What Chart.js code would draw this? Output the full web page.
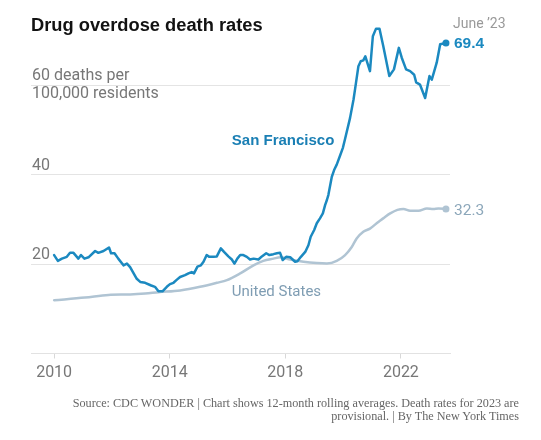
<!DOCTYPE html>
<html>
<head>
<meta charset="utf-8">
<script src="https://cdn.jsdelivr.net/npm/chart.js@4.4.1/dist/chart.umd.min.js"></script>
<style>
  html, body { margin: 0; padding: 0; background: #fff; }
  #wrap { position: relative; width: 541px; height: 440px; overflow: hidden; }
  #c { position: absolute; left: 0; top: 0; }
  #title { position: absolute; left: 31px; top: 16px; font: bold 18.3px "Liberation Sans", Arial, sans-serif; line-height: 18px; color: #121212; white-space: nowrap; }
  #source { position: absolute; right: 22px; top: 397px; font: 12.2px "Liberation Serif", "Times New Roman", serif; line-height: 12.5px; color: #666; text-align: right; white-space: nowrap; }
</style>
</head>
<body>
<div id="wrap">
  <canvas id="c" width="541" height="440"></canvas>
  <div id="title">Drug overdose death rates</div>
  <div id="source">Source: CDC WONDER | Chart shows 12-month rolling averages. Death rates for 2023 are<br>provisional. | By The New York Times</div>
</div>
<script>
// ---- data (decimal year, deaths per 100,000) ----
const sfYear = [2010.00, 2010.13, 2010.27, 2010.44, 2010.55, 2010.67, 2010.84, 2010.93, 2011.05, 2011.19,
  2011.42, 2011.53, 2011.71, 2011.90, 2011.97, 2012.09, 2012.22, 2012.40, 2012.52, 2012.63,
  2012.86, 2012.98, 2013.15, 2013.36, 2013.49, 2013.61, 2013.75, 2013.90, 2014.01, 2014.13,
  2014.25, 2014.36, 2014.53, 2014.65, 2014.76, 2014.84, 2014.96, 2015.08, 2015.17, 2015.28,
  2015.37, 2015.51, 2015.63, 2015.77, 2015.88, 2016.03, 2016.15, 2016.24, 2016.34, 2016.44,
  2016.55, 2016.67, 2016.78, 2016.90, 2017.07, 2017.19, 2017.34, 2017.45, 2017.59, 2017.71,
  2017.82, 2017.91, 2018.03, 2018.17, 2018.34, 2018.42, 2018.54, 2018.69, 2018.80, 2018.88,
  2019.00, 2019.09, 2019.20, 2019.30, 2019.38, 2019.44, 2019.49, 2019.61, 2019.69, 2019.78,
  2019.90, 2019.99, 2020.07, 2020.24, 2020.36, 2020.42, 2020.53, 2020.61, 2020.70, 2020.77,
  2020.93, 2021.03, 2021.14, 2021.26, 2021.39, 2021.60, 2021.76, 2021.93, 2022.03, 2022.18,
  2022.32, 2022.46, 2022.53, 2022.66, 2022.84, 2022.99, 2023.07, 2023.24, 2023.36, 2023.56];
const sfRate = [22.0, 20.7, 21.2, 21.6, 22.5, 22.5, 21.2, 22.0, 21.2, 21.5,
  22.9, 22.5, 22.9, 23.7, 22.4, 22.4, 21.2, 19.7, 20.1, 19.3,
  16.7, 16.0, 15.8, 15.2, 14.9, 13.9, 13.9, 14.9, 15.5, 15.8,
  16.5, 17.1, 17.5, 17.9, 18.2, 17.9, 19.4, 19.7, 20.5, 22.0,
  21.6, 21.6, 21.7, 23.5, 22.7, 21.7, 21.0, 20.1, 21.2, 22.0,
  22.0, 21.6, 21.0, 21.2, 21.0, 21.7, 22.4, 22.0, 22.2, 22.4,
  22.5, 20.9, 21.6, 21.5, 20.5, 20.6, 21.6, 22.7, 24.2, 26.1,
  27.6, 29.1, 30.2, 31.3, 33.2, 34.3, 35.4, 39.5, 41.0, 42.2,
  44.3, 45.9, 48.0, 52.6, 56.7, 59.3, 64.2, 65.3, 65.5, 66.4,
  63.1, 70.9, 72.6, 72.6, 68.7, 62.0, 63.5, 68.3, 66.1, 63.5,
  63.1, 62.3, 60.6, 60.1, 57.1, 62.0, 61.2, 65.0, 69.1, 69.4];

const usYear = [2010.00, 2011.07, 2011.88, 2012.63, 2013.15, 2013.61, 2014.36, 2015.05, 2015.63, 2015.98,
  2016.44, 2016.90, 2017.24, 2017.59, 2017.82, 2018.17, 2018.63, 2019.09, 2019.44, 2019.78,
  2020.07, 2020.30, 2020.47, 2020.70, 2020.93, 2021.22, 2021.39, 2021.63, 2021.88, 2022.09,
  2022.32, 2022.61, 2022.90, 2023.12, 2023.30, 2023.56];
const usRate = [11.9, 12.5, 13.1, 13.2, 13.4, 13.7, 14.1, 14.9, 15.8, 16.4,
  17.9, 19.7, 20.7, 21.2, 21.5, 21.0, 20.5, 20.2, 20.1, 20.7,
  22.0, 23.8, 25.7, 27.2, 27.9, 29.4, 30.2, 31.3, 32.1, 32.3,
  31.9, 31.9, 32.4, 32.3, 32.4, 32.3];

const seriesNames = ['San Francisco', 'United States'];
const xTickYears = [2010, 2014, 2018, 2022];
const yTickValues = [0, 20, 40, 60];
const yTickLabels = [[''], ['20', ''], ['40', ''], ['60 deaths per', '100,000 residents']];
const lastLabel = 'June ’23';

// ---- styling ----
const SF_COLOR = '#1b89c0';
const US_COLOR = '#b0c4d3';
const SANS = 'Roboto, "Liberation Sans", Arial, sans-serif';
const SANS_BOLD = '"Liberation Sans", Arial, sans-serif';

const toPoints = (xs, ys) => xs.map((x, i) => ({ x: x, y: ys[i] }));
const lastOnly = (n, r) => (ctx) => ctx.dataIndex === n - 1 ? r : 0;

const labelPlugin = {
  id: 'inlineLabels',
  afterDatasetsDraw(chart) {
    const { ctx } = chart;
    const xs = chart.scales.x, ys = chart.scales.y;
    const sfPt = chart.getDatasetMeta(0).data[sfYear.length - 1];
    const usPt = chart.getDatasetMeta(1).data[usYear.length - 1];
    ctx.save();
    ctx.textAlign = 'left';
    ctx.textBaseline = 'alphabetic';
    ctx.font = '14px ' + SANS;
    ctx.fillStyle = '#999';
    ctx.fillText(lastLabel, sfPt.x + 7, sfPt.y - 14.5);
    ctx.font = 'bold 15.5px ' + SANS_BOLD;
    ctx.fillStyle = SF_COLOR;
    ctx.fillText(sfRate[sfRate.length - 1].toFixed(1), sfPt.x + 8, sfPt.y + 5.5);
    ctx.font = '15.5px ' + SANS;
    ctx.fillStyle = '#8ca7ba';
    ctx.fillText(usRate[usRate.length - 1].toFixed(1), usPt.x + 8, usPt.y + 6);
    ctx.font = 'bold 15px ' + SANS_BOLD;
    ctx.fillStyle = '#1a7fb4';
    ctx.fillText(seriesNames[0], xs.getPixelForValue(2016.15), ys.getPixelForValue(46.6));
    ctx.font = '15px ' + SANS;
    ctx.fillStyle = '#7f9db3';
    ctx.fillText(seriesNames[1], xs.getPixelForValue(2016.15), ys.getPixelForValue(12.9));
    ctx.restore();
  }
};

new Chart(document.getElementById('c'), {
  type: 'line',
  data: {
    datasets: [
      {
        label: seriesNames[0],
        data: toPoints(sfYear, sfRate),
        borderColor: SF_COLOR,
        backgroundColor: SF_COLOR,
        borderWidth: 2.5,
        tension: 0,
        borderJoinStyle: 'round',
        borderCapStyle: 'round',
        pointRadius: lastOnly(sfYear.length, 3.5),
        pointHoverRadius: 0,
        pointBorderWidth: 0
      },
      {
        label: seriesNames[1],
        data: toPoints(usYear, usRate),
        borderColor: US_COLOR,
        backgroundColor: US_COLOR,
        borderWidth: 2.5,
        cubicInterpolationMode: 'monotone',
        borderJoinStyle: 'round',
        borderCapStyle: 'round',
        pointRadius: lastOnly(usYear.length, 3.5),
        pointHoverRadius: 0,
        pointBorderWidth: 0
      }
    ]
  },
  options: {
    responsive: false,
    animation: false,
    events: [],
    layout: { padding: { left: 31, right: 91, top: 17.9, bottom: 46.5 } },
    plugins: { legend: { display: false }, tooltip: { enabled: false }, title: { display: false } },
    scales: {
      x: {
        type: 'linear',
        min: 2009.2,
        max: 2023.7,
        afterBuildTicks: (s) => { s.ticks = xTickYears.map(v => ({ value: v })); },
        afterFit: (s) => { s.height = 40; s.paddingLeft = 0; s.paddingRight = 0; },
        ticks: {
          callback: (v) => String(v),
          color: '#777',
          font: { family: SANS, size: 16 },
          padding: 5,
          maxRotation: 0,
          autoSkip: false
        },
        grid: { drawOnChartArea: false, drawTicks: true, tickLength: 5, color: '#d8d8d8', lineWidth: 1 },
        border: { display: true, color: '#e2e2e2', width: 1 }
      },
      y: {
        min: 0,
        max: 75,
        afterBuildTicks: (s) => { s.ticks = yTickValues.map(v => ({ value: v })); },
        afterFit: (s) => { s.width = 0; s.paddingTop = 0; s.paddingBottom = 0; },
        ticks: {
          mirror: true,
          padding: 1,
          color: '#777',
          font: { family: SANS, size: 16, lineHeight: 1.12 },
          callback: (v) => yTickLabels[yTickValues.indexOf(v)]
        },
        grid: { color: '#e4e4e4', lineWidth: 1, drawTicks: false },
        border: { display: false }
      }
    }
  },
  plugins: [labelPlugin]
});
</script>
</body>
</html>
